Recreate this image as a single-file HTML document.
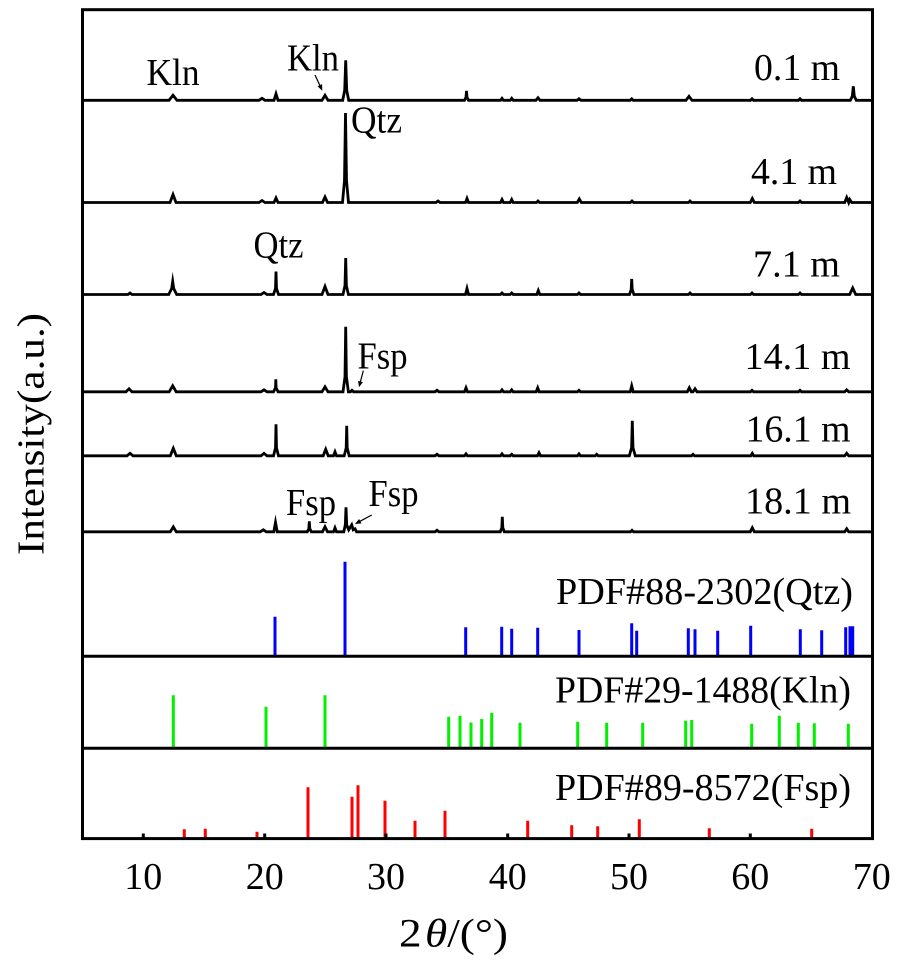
<!DOCTYPE html>
<html><head><meta charset="utf-8"><style>
html,body{margin:0;padding:0;background:#fff;}
svg{display:block;}
text{font-family:"Liberation Serif","Times New Roman",serif;fill:#000;}
</style></head><body>
<svg width="898" height="967" viewBox="0 0 898 967" xmlns="http://www.w3.org/2000/svg">
<rect x="0" y="0" width="898" height="967" fill="#fff"/>

<!-- traces -->
<g fill="none" stroke="#000" stroke-width="2.8" stroke-linejoin="miter" stroke-miterlimit="10">
<path d="M83,100.3 H169 l4,-5 l4,5 H259 l3,-2 l3,2 H274 l2,-6.5 l2,6.5 H322 l3,-5 l3,5 H342.7 l2,-10 l1,-30 l1,30 l2,10 H464.5 l1.5,-3 l0.5,-6.5 l0.5,6.5 l1.5,3 H500.5 l1.5,-2 l1.5,2 H510.2 l1.5,-2 l1.5,2 H536 l2,-2.5 l2,2.5 H577 l2,-1.5 l2,1.5 H630.2 l1.5,-1.5 l1.5,1.5 H686 l3,-4 l3,4 H750.5 l1.5,-1.5 l1.5,1.5 H798.5 l1.5,-1.5 l1.5,1.5 H850.3 l2,-4 l1,-10 l1,10 l2,4 H871"/>
<path d="M83,202.5 H170 l3,-8 l3,8 H259 l3,-2 l3,2 H274 l2,-4.5 l2,4.5 H322.5 l2.5,-5.5 l2.5,5.5 H342.5 l2,-22 l1,-67.5 l1,67.5 l2,22 H436 l2,-1.5 l2,1.5 H465.5 l1.5,-4 l1.5,4 H500.5 l1.5,-3 l1.5,3 H510.2 l1.5,-3 l1.5,3 H536.5 l1.5,-1.5 l1.5,1.5 H577.3 l2,-3.5 l2,3.5 H630.5 l1.5,-1.5 l1.5,1.5 H688.5 l1.5,-1.5 l1.5,1.5 H750.3 l2,-4 l2,4 H798.5 l1.5,-1.5 l1.5,1.5 H844.7 l2,-5 l2,5 l1,-3 l2,3 H871"/>
<path d="M83,294.5 H128 l2,-1.5 l2,1.5 H168.7 l3,-6 l1,-7 l1,7 l3,6 H261 l3,-2 l3,2 H273.5 l2,-6 l0.5,-17 l0.5,17 l2,6 H322 l3,-8 l3,8 H343 l2,-9 l0.7,-27.5 l0.7,27.5 l2,9 H465.5 l1.5,-6 l1.5,6 H500.5 l1.5,-1.5 l1.5,1.5 H510.2 l1.5,-1.5 l1.5,1.5 H536.8 l1.5,-4 l1.5,4 H577.5 l1.5,-1.5 l1.5,1.5 H629.5 l1.7,-5 l0.5,-10.5 l0.5,10.5 l1.7,5 H688.5 l1.5,-1.5 l1.5,1.5 H750.5 l1.5,-1.5 l1.5,1.5 H798.5 l1.5,-1.5 l1.5,1.5 H849.7 l3,-6.5 l3,6.5 H871"/>
<path d="M83,391.8 H126 l3,-3 l3,3 H169.2 l3.5,-6 l3.5,6 H261 l3,-2 l3,2 H273.5 l2,-4 l0.3,-8.5 l0.3,8.5 l2,4 H322 l3,-5 l3,5 H343 l2,-15 l0.7,-50 l0.7,50 l2,15 H350.5 l1.5,-1.5 l1.5,1.5 H435 l2,-1.5 l2,1.5 H464.5 l1.5,-4 l1.5,4 H500.5 l1.5,-2 l1.5,2 H510.2 l1.5,-2 l1.5,2 H536.2 l1.5,-4 l1.5,4 H577.5 l1.5,-1.5 l1.5,1.5 H630.2 l1.5,-6 l1.5,6 H687.3 l2,-4 l2,4 H693 l2,-3 l2,3 H750.5 l1.5,-1.5 l1.5,1.5 H798.5 l1.5,-1.5 l1.5,1.5 H844.7 l2,-2 l2,2 H871"/>
<path d="M83,455.8 H127 l3,-2.5 l3,2.5 H170.3 l3,-7.5 l3,7.5 H261 l3,-2.5 l3,2.5 H273.5 l2,-8 l0.5,-23.5 l0.5,23.5 l2,8 H323.2 l2.5,-6.5 l2.5,6.5 H333.5 l1.5,-4 l1.5,4 H344.2 l2,-8 l0.5,-22 l0.5,22 l2,8 H435 l2,-1.5 l2,1.5 H464.5 l1.5,-2 l1.5,2 H500.5 l1.5,-2 l1.5,2 H510.2 l1.5,-1.5 l1.5,1.5 H537.5 l1.5,-3 l1.5,3 H577.5 l1.5,-2 l1.5,2 H595.2 l1.5,-1.5 l1.5,1.5 H629.3 l2.3,-8 l0.7,-27 l0.7,27 l2.3,8 H691.5 l1.5,-1.5 l1.5,1.5 H750.8 l1.5,-2.5 l1.5,2.5 H844.7 l2,-2.5 l2,2.5 H871"/>
<path d="M83,531.8 H170.3 l3,-5 l3,5 H260.3 l3,-2 l3,2 H273.8 l1.7,-9.5 l1.7,9.5 H307.3 l1.5,-3 l0.5,-7.5 l0.5,7.5 l1.5,3 H322.5 l2.5,-5 l2.5,5 H333.5 l1.5,-4 l1.5,4 H343.8 l1.5,-7 l0.7,-17.5 l0.7,17.5 l2,5 l3,-5 l1.5,5 l1.8,-1 l1.5,3 H435 l2,-1.5 l2,1.5 H500.3 l1.5,-4 l0.5,-11 l0.5,11 l1.5,4 H630.5 l1.5,-1.5 l1.5,1.5 H750.3 l2,-4 l2,4 H844.7 l2,-3 l2,3 H871"/>
</g>

<!-- Qtz sticks -->
<g stroke="#0000ff" stroke-width="3" fill="none">
<path d="M275,616.7V655 M345,561.7V655 M465.7,627.3V655 M501.7,626.7V655 M511.7,628.7V655 M537.7,627.7V655 M579,630V655 M631.7,623.3V655 M636.7,630.7V655 M688.3,628.3V655 M695,629.3V655 M717.7,630.7V655 M750.7,625.7V655 M800.3,629.3V655 M821.7,630.3V655 M845.7,627.3V655 M850,626.3V655 M852.7,626.3V655"/>
</g>
<!-- Kln sticks -->
<g stroke="#00f000" stroke-width="3" fill="none">
<path d="M173.3,695.3V747 M266,706.7V747 M325,695.3V747 M448.7,716.7V747 M460,715.7V747 M471,722.5V747 M481.7,719V747 M491.7,712.7V747 M520,722.7V747 M577.7,721.7V747 M606.7,722.7V747 M642.7,722.7V747 M685.7,720.7V747 M691.7,720V747 M751.7,723.7V747 M779.3,715.7V747 M798.3,722.7V747 M814.3,723.3V747 M848.3,723.7V747"/>
</g>
<!-- Fsp sticks -->
<g stroke="#ff0000" stroke-width="3" fill="none">
<path d="M184.3,829.3V838 M205.3,828.7V838 M257,831.7V838 M308,787.3V838 M352,796.7V838 M358,785.3V838 M385,800.7V838 M415,820.7V838 M445,810.7V838 M527.7,820.7V838 M571.7,825.3V838 M597.7,826.3V838 M639.3,819.3V838 M709.3,828.3V838 M811.7,828.7V838"/>
</g>

<!-- bottom inner ticks -->
<g stroke="#000" stroke-width="3" fill="none">
<path d="M143.3,833.5V838 M264.7,833.5V838 M386,833.5V838 M507.7,833.5V838 M629,833.5V838 M750.3,833.5V838"/>
</g>

<!-- frame and separators -->
<rect x="82.5" y="9.7" width="790" height="828.9" fill="none" stroke="#000" stroke-width="3"/>
<line x1="82.5" y1="656.2" x2="872.5" y2="656.2" stroke="#000" stroke-width="3"/>
<line x1="82.5" y1="748.3" x2="872.5" y2="748.3" stroke="#000" stroke-width="3"/>

<!-- arrows -->
<g stroke="#000" stroke-width="1.2" fill="none">
<line x1="315" y1="75" x2="320.5" y2="86.8"/>
<line x1="363.3" y1="370.7" x2="360.2" y2="382.5"/>
<line x1="371.7" y1="515" x2="360" y2="521.3"/>
</g>
<g fill="#000">
<polygon points="322.3,90.7 322.07,84.15 317.53,86.25"/>
<polygon points="359,387.3 362.92,382.13 358.08,380.88"/>
<polygon points="355,524 361.47,523.36 359.09,518.96"/>
</g>

<!-- peak annotations -->
<g font-size="38">
<text x="146.5" y="85" textLength="53" lengthAdjust="spacingAndGlyphs">Kln</text>
<text x="287" y="70.7" textLength="52" lengthAdjust="spacingAndGlyphs">Kln</text>
<text x="351" y="132.3" textLength="51" lengthAdjust="spacingAndGlyphs">Qtz</text>
<text x="253.5" y="257.7" textLength="50" lengthAdjust="spacingAndGlyphs">Qtz</text>
<text x="357.5" y="368.3" textLength="50" lengthAdjust="spacingAndGlyphs">Fsp</text>
<text x="286" y="515" textLength="50" lengthAdjust="spacingAndGlyphs">Fsp</text>
<text x="368.5" y="506" textLength="50" lengthAdjust="spacingAndGlyphs">Fsp</text>

<text x="754" y="80" textLength="86" lengthAdjust="spacingAndGlyphs">0.1 m</text>
<text x="751" y="184" textLength="86" lengthAdjust="spacingAndGlyphs">4.1 m</text>
<text x="753" y="276.7" textLength="87" lengthAdjust="spacingAndGlyphs">7.1 m</text>
<text x="744.5" y="369" textLength="106" lengthAdjust="spacingAndGlyphs">14.1 m</text>
<text x="745.5" y="441.7" textLength="105" lengthAdjust="spacingAndGlyphs">16.1 m</text>
<text x="745" y="513.3" textLength="106" lengthAdjust="spacingAndGlyphs">18.1 m</text>

<text x="556" y="604" textLength="297" lengthAdjust="spacingAndGlyphs">PDF#88-2302(Qtz)</text>
<text x="555" y="702.3" textLength="296" lengthAdjust="spacingAndGlyphs">PDF#29-1488(Kln)</text>
<text x="555" y="800" textLength="296" lengthAdjust="spacingAndGlyphs">PDF#89-8572(Fsp)</text>
</g>

<!-- tick labels -->
<g font-size="38" text-anchor="middle">
<text x="143.3" y="889">10</text>
<text x="264.7" y="889">20</text>
<text x="386" y="889">30</text>
<text x="507.7" y="889">40</text>
<text x="629" y="889">50</text>
<text x="750.3" y="889">60</text>
<text x="871.7" y="889">70</text>
</g>

<!-- axis titles -->
<text x="399" y="946.7" font-size="40" textLength="109" lengthAdjust="spacingAndGlyphs">2<tspan dx="3" font-style="italic">θ</tspan>/(°)</text>
<text transform="translate(43.5,555) rotate(-90)" font-size="38" textLength="242" lengthAdjust="spacingAndGlyphs">Intensity(a.u.)</text>
</svg>
</body></html>
